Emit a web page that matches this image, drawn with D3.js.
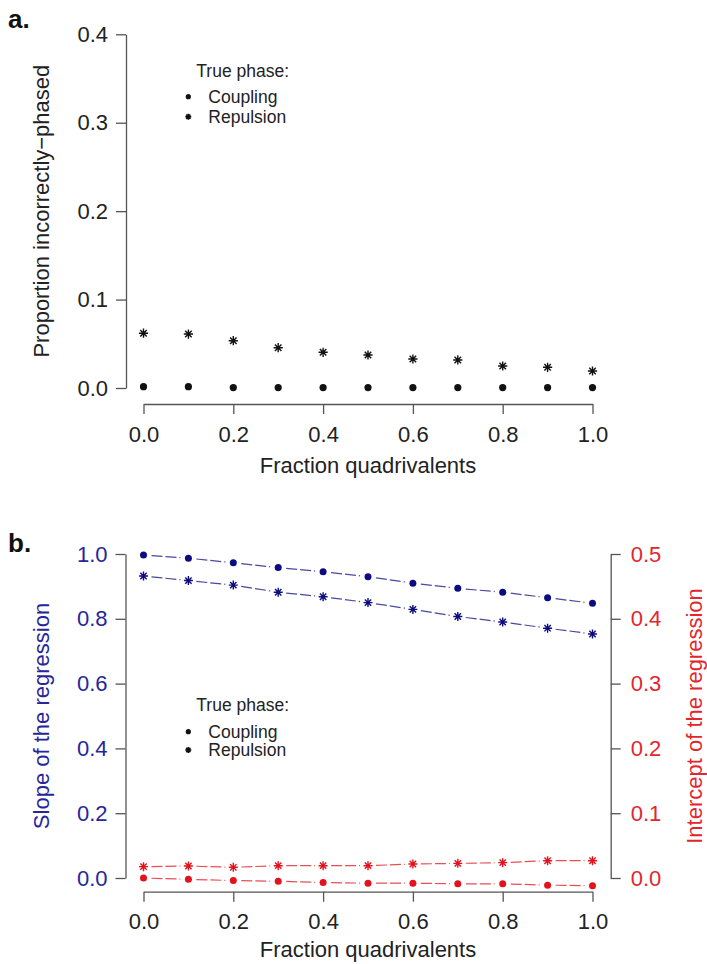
<!DOCTYPE html>
<html>
<head>
<meta charset="utf-8">
<script src="https://cdn.jsdelivr.net/npm/d3@7"></script>
<style>
  html, body { margin: 0; padding: 0; background: #fff; }
  svg { display: block; font-family: "Liberation Sans", Arial, sans-serif; }
</style>
</head>
<body>
<svg id="chart" width="707" height="964"></svg>
<script>
// ---------------- data ----------------
const fractions = [0.0, 0.1, 0.2, 0.3, 0.4, 0.5, 0.6, 0.7, 0.8, 0.9, 1.0];
const xTicks = [0.0, 0.2, 0.4, 0.6, 0.8, 1.0];

// panel a: proportion incorrectly phased
const propCoupling  = [0.0015, 0.0015, 0.0005, 0.0005, 0.0005, 0.0005, 0.0005, 0.0005, 0.0005, 0.0005, 0.0005];
const propRepulsion = [0.062, 0.061, 0.0535, 0.0456, 0.0404, 0.0373, 0.0328, 0.0317, 0.0249, 0.0234, 0.0192];
const yTicksA = [0.0, 0.1, 0.2, 0.3, 0.4];

// panel b: slope (left axis) and intercept (right axis)
const slopeCoupling  = [0.997, 0.987, 0.973, 0.958, 0.945, 0.930, 0.910, 0.894, 0.882, 0.865, 0.848];
const slopeRepulsion = [0.932, 0.918, 0.904, 0.882, 0.868, 0.850, 0.829, 0.807, 0.790, 0.771, 0.753];
const interceptCoupling  = [0.000, -0.002, -0.004, -0.005, -0.007, -0.008, -0.008, -0.009, -0.009, -0.011, -0.012];
const interceptRepulsion = [0.0175, 0.0185, 0.0165, 0.019, 0.019, 0.019, 0.0216, 0.0226, 0.0237, 0.0267, 0.0267];
const yTicksBLeft  = [0.0, 0.2, 0.4, 0.6, 0.8, 1.0];
const yTicksBRight = [0.0, 0.1, 0.2, 0.3, 0.4, 0.5];

const legendTitle = "True phase:";
const legendLabels = ["Coupling", "Repulsion"];

// ---------------- styles ----------------
const FS = 22;
const axisCol = "#555";
const textCol = "#222";
const blue = "#0c0c80";
const blueText = "#26269a";
const red = "#e3121c";
const redText = "#e2262e";

const svg = d3.select("#chart");
const fmt = d3.format(".1f");

const x = d3.scaleLinear().domain([0, 1]).range([143.5, 592.5]);
const yA = d3.scaleLinear().domain([0, 0.4]).range([388, 34.3]);
const yBL = d3.scaleLinear().domain([0, 1]).range([878, 554]);
const yBR = d3.scaleLinear().domain([0, 0.5]).range([878, 554]);

function styleAxis(g, col) {
  g.select(".domain").attr("stroke", axisCol).attr("stroke-width", 1.3);
  g.selectAll(".tick line").attr("stroke", axisCol).attr("stroke-width", 1.3);
  g.selectAll(".tick text").attr("fill", col).attr("font-size", FS)
    .attr("font-family", "Liberation Sans, Arial, sans-serif");
}

function asterisk(s) {
  const k = s * 0.7071;
  return `M${-s},0H${s}M0,${-s}V${s}M${-k},${-k}L${k},${k}M${-k},${k}L${k},${-k}`;
}

function drawPoints(g, xs, ys, xScale, yScale, type, col, r) {
  if (type === "dot") {
    g.selectAll(null).data(xs).join("circle")
      .attr("cx", (d) => xScale(d))
      .attr("cy", (d, i) => yScale(ys[i]))
      .attr("r", r).attr("fill", col);
  } else {
    g.selectAll(null).data(xs).join("path")
      .attr("transform", (d, i) => `translate(${xScale(d)},${yScale(ys[i])})`)
      .attr("d", asterisk(r)).attr("stroke", col).attr("stroke-width", 1.4).attr("fill", "none");
  }
}

function drawGapLines(g, xs, ys, xScale, yScale, col) {
  const gap = 8;
  for (let i = 0; i < xs.length - 1; i++) {
    const x1 = xScale(xs[i]), y1 = yScale(ys[i]);
    const x2 = xScale(xs[i + 1]), y2 = yScale(ys[i + 1]);
    const dx = x2 - x1, dy = y2 - y1, L = Math.hypot(dx, dy);
    const ux = dx / L, uy = dy / L;
    g.append("line")
      .attr("x1", x1 + ux * gap).attr("y1", y1 + uy * gap)
      .attr("x2", x2 - ux * gap).attr("y2", y2 - uy * gap)
      .attr("stroke", col).attr("stroke-width", 1.2).attr("opacity", 0.75)
      .attr("stroke-dasharray", "11,3");
  }
}

function drawLegend(g, lx, ty, y1, y2) {
  g.append("text").attr("x", lx + 8).attr("y", ty).attr("dy", "0.35em")
    .attr("font-size", 17.5).attr("fill", textCol).text(legendTitle);
  g.append("circle").attr("cx", lx).attr("cy", y1).attr("r", 2.6).attr("fill", "#111");
  g.append("path").attr("transform", `translate(${lx},${y2})`).attr("d", asterisk(3))
    .attr("stroke", "#111").attr("stroke-width", 1.6).attr("fill", "none");
  g.append("text").attr("x", lx + 20).attr("y", y1).attr("dy", "0.35em")
    .attr("font-size", 17.5).attr("fill", textCol).text(legendLabels[0]);
  g.append("text").attr("x", lx + 20).attr("y", y2).attr("dy", "0.35em")
    .attr("font-size", 17.5).attr("fill", textCol).text(legendLabels[1]);
}

// ================= Panel a =================
const gA = svg.append("g");
gA.append("text").attr("x", 8).attr("y", 28).attr("font-size", 26).attr("font-weight", "bold")
  .attr("fill", "#111").text("a.");

gA.append("g").attr("transform", "translate(126,0)")
  .call(d3.axisLeft(yA).tickValues(yTicksA).tickFormat(fmt).tickSize(10).tickSizeOuter(0).tickPadding(8))
  .call((g) => styleAxis(g, textCol));

gA.append("g").attr("transform", "translate(0,404)")
  .call(d3.axisBottom(x).tickValues(xTicks).tickFormat(fmt).tickSize(10).tickSizeOuter(0).tickPadding(12))
  .call((g) => styleAxis(g, textCol));

gA.append("text").attr("transform", `translate(41,${(388 + 34.3) / 2}) rotate(-90)`)
  .attr("text-anchor", "middle").attr("dy", "0.35em").attr("font-size", FS).attr("fill", textCol)
  .text("Proportion incorrectly\u2212phased");
gA.append("text").attr("x", 368).attr("y", 465).attr("dy", "0.35em").attr("text-anchor", "middle")
  .attr("font-size", FS).attr("fill", textCol).text("Fraction quadrivalents");

drawPoints(gA, fractions, propRepulsion, x, yA, "star", "#111", 4.6);
drawPoints(gA, fractions, propCoupling, x, yA, "dot", "#111", 3.6);
drawLegend(gA, 188.3, 71, 96.7, 116.7);

// ================= Panel b =================
const gB = svg.append("g");
gB.append("text").attr("x", 8).attr("y", 552).attr("font-size", 26).attr("font-weight", "bold")
  .attr("fill", "#111").text("b.");

gB.append("g").attr("transform", "translate(125.5,0)")
  .call(d3.axisLeft(yBL).tickValues(yTicksBLeft).tickFormat(fmt).tickSize(10).tickSizeOuter(0).tickPadding(8))
  .call((g) => styleAxis(g, blueText));

gB.append("g").attr("transform", "translate(610.7,0)")
  .call(d3.axisRight(yBR).tickValues(yTicksBRight).tickFormat(fmt).tickSize(10).tickSizeOuter(0).tickPadding(10))
  .call((g) => styleAxis(g, redText));

gB.append("g").attr("transform", "translate(0,891.7)")
  .call(d3.axisBottom(x).tickValues(xTicks).tickFormat(fmt).tickSize(10).tickSizeOuter(0).tickPadding(12))
  .call((g) => styleAxis(g, textCol));

gB.append("text").attr("transform", `translate(41,716) rotate(-90)`)
  .attr("text-anchor", "middle").attr("dy", "0.35em").attr("font-size", FS).attr("fill", blueText)
  .text("Slope of the regression");
gB.append("text").attr("transform", `translate(694,716) rotate(-90)`)
  .attr("text-anchor", "middle").attr("dy", "0.35em").attr("font-size", FS).attr("fill", redText)
  .text("Intercept of the regression");
gB.append("text").attr("x", 368).attr("y", 957).attr("text-anchor", "middle")
  .attr("font-size", FS).attr("fill", textCol).text("Fraction quadrivalents");

drawGapLines(gB, fractions, slopeCoupling, x, yBL, blue);
drawGapLines(gB, fractions, slopeRepulsion, x, yBL, blue);
drawGapLines(gB, fractions, interceptCoupling, x, yBR, red);
drawGapLines(gB, fractions, interceptRepulsion, x, yBR, red);

drawPoints(gB, fractions, slopeCoupling, x, yBL, "dot", blue, 3.5);
drawPoints(gB, fractions, slopeRepulsion, x, yBL, "star", blue, 4.5);
drawPoints(gB, fractions, interceptCoupling, x, yBR, "dot", red, 3.5);
drawPoints(gB, fractions, interceptRepulsion, x, yBR, "star", red, 4.5);

drawLegend(gB, 188.3, 705, 731.7, 750);
</script>
</body>
</html>
